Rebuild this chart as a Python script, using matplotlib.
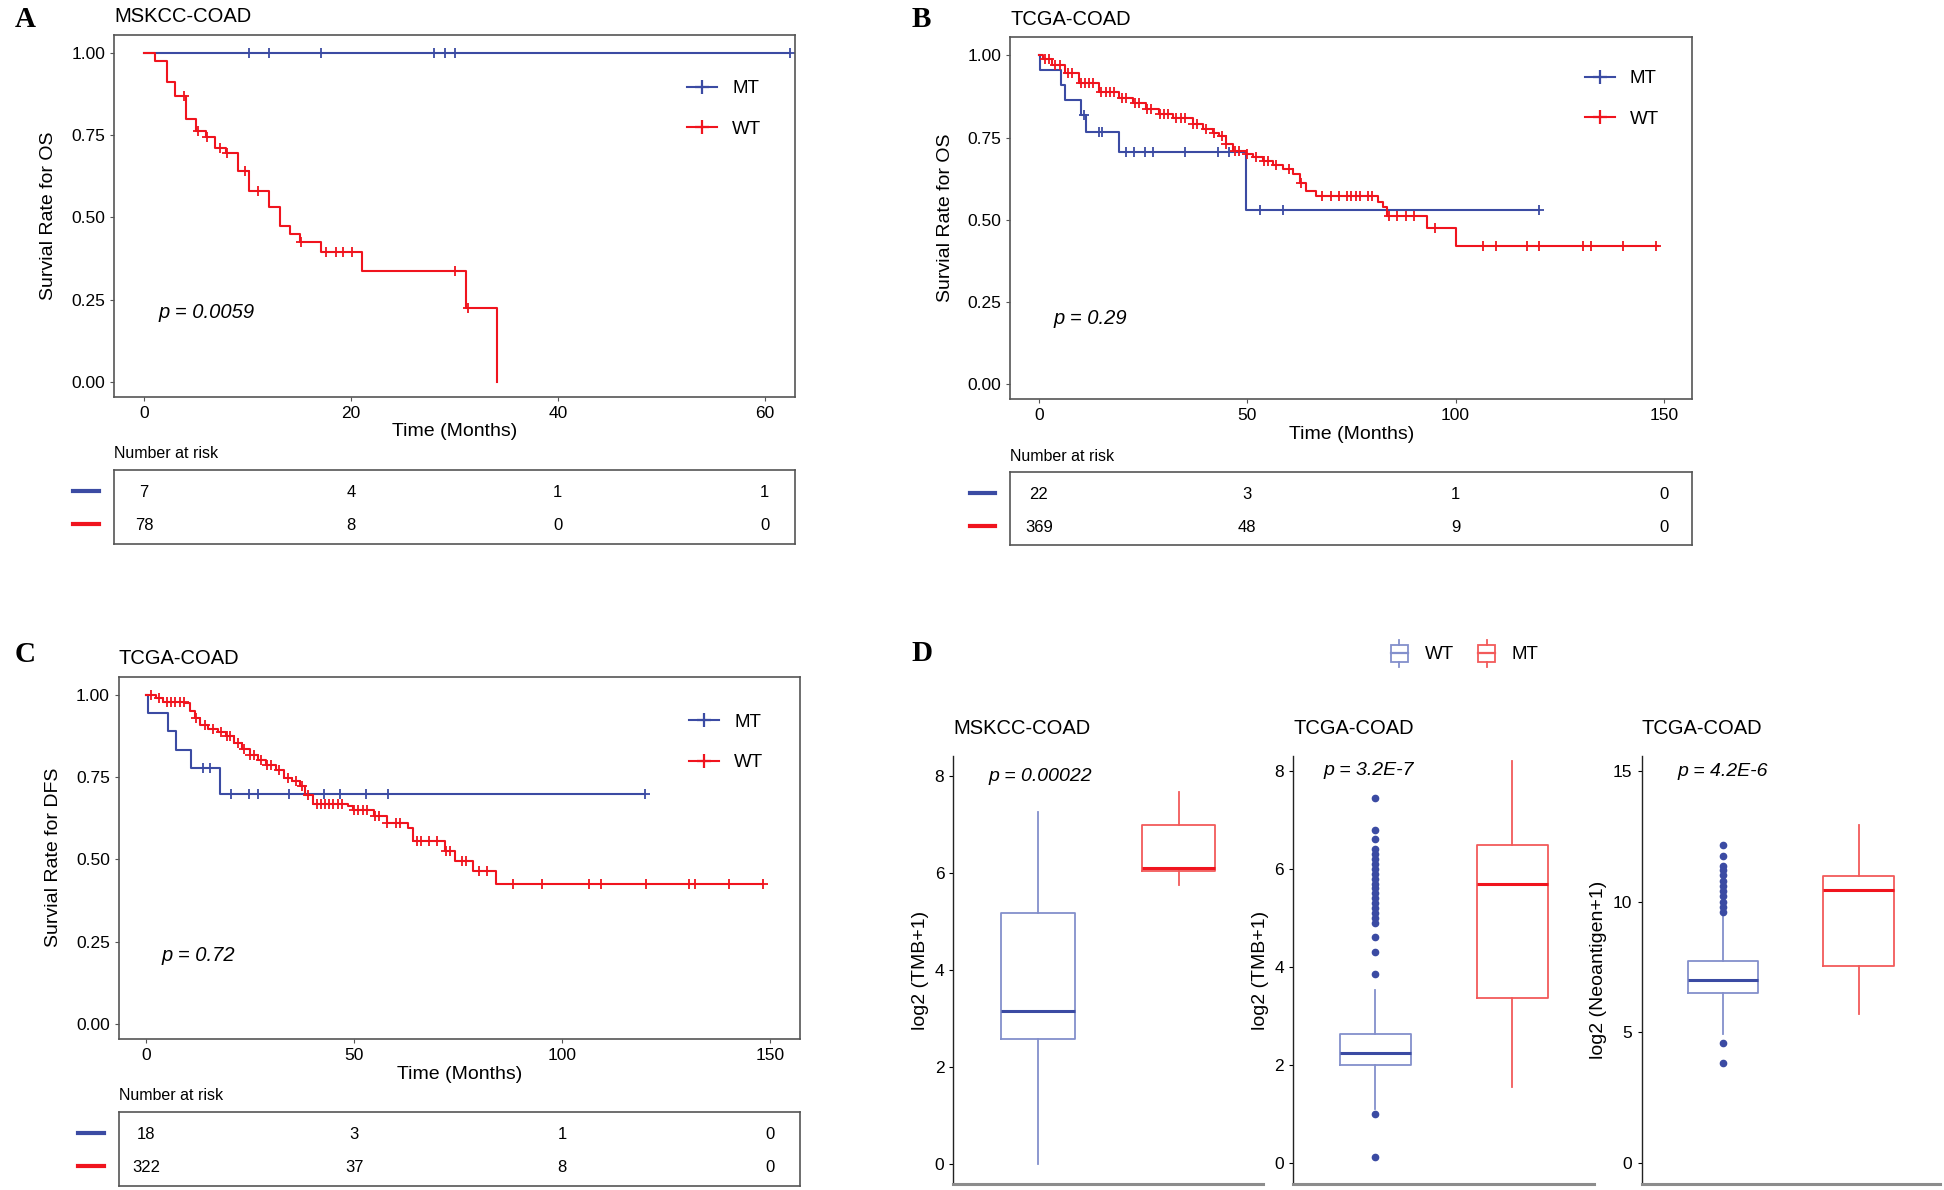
import numpy as np
import matplotlib
matplotlib.use("Agg")
import matplotlib.pyplot as plt
from matplotlib.lines import Line2D
from matplotlib.patches import Rectangle, Patch
from matplotlib.legend_handler import HandlerBase
from matplotlib.ticker import FormatStrFormatter

plt.rcParams['font.family'] = ['Liberation Sans', 'DejaVu Sans']

BLUE = "#3B4BA3"
RED = "#F0141E"
BLUE_L = "#8390CC"
RED_L = "#F25A5A"
FRAME = "#555555"

# ---------------- Panel A: MSKCC-COAD, OS ----------------
a_mt_times = [0]
a_mt_surv = [1.0]
a_mt_end = 62.4
a_mt_censor = [10.1, 12.05, 17.1, 28.0, 29.1, 30.1, 62.4]

a_wt_times = [0, 1.1, 2.2, 3.0, 4.05, 5.06, 6.0, 6.9, 7.9, 9.1, 10.1,
              12.05, 13.1, 14.1, 15.1, 17.1, 21.1, 31.1, 34.1]
a_wt_surv = [1.0, 0.975, 0.91, 0.87, 0.80, 0.763, 0.745, 0.712, 0.695, 0.64,
             0.58, 0.532, 0.475, 0.45, 0.425, 0.395, 0.337, 0.225, 0.0]
a_wt_end = 34.1
a_wt_censor = [3.9, 5.2, 6.1, 7.3, 8.0, 9.8, 11.0, 15.2, 17.6, 18.6, 19.2,
               20.1, 30.1, 31.3]

a_risk_times = [0, 20, 40, 60]
a_risk_mt = [7, 4, 1, 1]
a_risk_wt = [78, 8, 0, 0]

# ---------------- Panel B: TCGA-COAD, OS ----------------
b_mt_times = [0, 0.3, 5.3, 6.4, 10.0, 11.2, 19.3, 49.8]
b_mt_surv = [1.0, 0.955, 0.909, 0.864, 0.818, 0.768, 0.705, 0.53]
b_mt_end = 120.0
b_mt_censor = [10.9, 14.4, 15.2, 20.9, 22.8, 25.4, 27.3, 35.0, 43.0, 45.7,
               53.0, 58.6, 120.0]

b_wt_times = [0, 1.0, 3.2, 6.4, 9.6, 14.4, 19.3, 22.5, 25.7, 28.9, 32.1,
              36.9, 39.3, 41.7, 43.3, 44.9, 46.5, 49.8, 51.4, 53.8, 56.2,
              58.6, 61.0, 62.6, 64.2, 66.6, 81.5, 82.7, 83.5, 93.1, 100.0]
b_wt_surv = [1.0, 0.99, 0.97, 0.947, 0.917, 0.887, 0.871, 0.856, 0.836,
             0.821, 0.81, 0.79, 0.775, 0.765, 0.755, 0.73, 0.71, 0.70, 0.69,
             0.68, 0.667, 0.653, 0.64, 0.613, 0.588, 0.572, 0.555, 0.54,
             0.51, 0.475, 0.42]
b_wt_end = 148.5
b_wt_censor = [1.5, 2.5, 4, 5, 7, 8, 10, 11, 12, 13, 15, 16, 17, 18, 20, 21,
               23, 24, 26, 27, 29, 30, 31, 33, 34, 35, 37, 38, 40, 42, 44, 45,
               47, 48, 50, 52, 54, 55, 57, 60, 63, 68, 70, 72, 74, 75, 76, 77,
               79, 80, 84, 86, 88, 90, 95, 106.7, 109.6, 117.2, 120.1, 130.5,
               132.6, 140.1, 148.2]

b_risk_times = [0, 50, 100, 150]
b_risk_mt = [22, 3, 1, 0]
b_risk_wt = [369, 48, 9, 0]

# ---------------- Panel C: TCGA-COAD, DFS ----------------
c_mt_times = [0, 0.3, 5.1, 7.2, 10.8, 17.7]
c_mt_surv = [1.0, 0.944, 0.889, 0.833, 0.778, 0.70]
c_mt_end = 119.9
c_mt_censor = [13.5, 15.2, 20.3, 24.7, 26.8, 34.4, 42.7, 46.7, 52.8, 58.1,
               119.9]

c_wt_times = [0, 2.2, 4.0, 9.1, 10.4, 11.6, 12.9, 14.8, 17.3, 19.2, 21.1,
              23.0, 24.9, 26.8, 28.7, 31.3, 33.2, 35.1, 37.0, 38.2, 40.1,
              48.4, 49.6, 54.7, 57.8, 62.9, 64.2, 71.8, 74.3, 78.7, 84.2]
c_wt_surv = [1.0, 0.99, 0.98, 0.975, 0.95, 0.93, 0.91, 0.897, 0.887, 0.874,
             0.854, 0.837, 0.818, 0.803, 0.788, 0.773, 0.748, 0.737, 0.722,
             0.697, 0.669, 0.662, 0.649, 0.631, 0.611, 0.596, 0.556, 0.525,
             0.495, 0.465, 0.424]
c_wt_end = 148.4
c_wt_censor = [1, 3, 5, 6, 7, 8, 9, 12, 14, 16, 18, 19.5, 20, 22, 23.5, 25,
               26, 27.5, 29, 30, 32, 34, 36, 37.5, 39, 41, 42, 43, 44, 45, 46,
               47, 50, 51, 52, 53, 55, 56, 58, 60, 61, 65, 66, 68, 70, 72, 73,
               76, 77, 80, 82, 88.2, 95.2, 106.6, 109.4, 120.1, 130.6, 131.9,
               140.1, 148.4]

c_risk_times = [0, 50, 100, 150]
c_risk_mt = [18, 3, 1, 0]
c_risk_wt = [322, 37, 8, 0]

# ---------------- Panel D: box plots ----------------
# (whislo, q1, med, q3, whishi)
d1_wt = [0.0, 2.57, 3.15, 5.17, 7.26]
d1_mt = [5.75, 6.05, 6.1, 6.99, 7.67]
d1_wt_fliers = []

d2_wt = [1.1, 2.0, 2.25, 2.62, 3.52]
d2_mt = [1.54, 3.37, 5.7, 6.49, 8.2]
d2_wt_fliers = [0.12, 0.99, 3.85, 4.3, 4.6, 4.9, 5.0, 5.1, 5.2, 5.3, 5.4,
                5.5, 5.6, 5.7, 5.8, 5.9, 6.0, 6.1, 6.2, 6.3, 6.4, 6.6, 6.8,
                7.45]

d3_wt = [4.93, 6.5, 7.01, 7.71, 9.45]
d3_mt = [5.69, 7.54, 10.44, 10.97, 12.92]
d3_wt_fliers = [3.82, 4.58, 9.6, 9.8, 10.0, 10.2, 10.4, 10.6, 10.8, 11.0,
                11.2, 11.35, 11.75, 12.15]


def step_value(times, surv, t):
    idx = np.searchsorted(times, t, side='right') - 1
    return np.asarray(surv)[idx]


def draw_curve(ax, times, surv, end, censor, color):
    t = list(times) + [end]
    s = list(surv) + [surv[-1]]
    ax.step(t, s, where='post', color=color, lw=1.5)
    cs = step_value(times, surv, np.asarray(censor))
    ax.plot(censor, cs, ls='none', marker='+', ms=6.5, mew=1.3, color=color)


def km_panel(rect, trect, curves, xlim, risk_times, risk_mt, risk_wt,
             title, ylabel, ptext, pxy, leg_anchor):
    ax = fig.add_axes(rect)
    for times, surv, end, censor, color in curves:
        draw_curve(ax, times, surv, end, censor, color)
    ax.set_xlim(xlim)
    ax.set_ylim(-0.045, 1.055)
    ax.set_xticks(risk_times)
    ax.set_yticks([0, 0.25, 0.5, 0.75, 1.0])
    ax.yaxis.set_major_formatter(FormatStrFormatter('%.2f'))
    ax.tick_params(labelsize=12.5, length=3, color=FRAME)
    for sp in ax.spines.values():
        sp.set_color(FRAME)
        sp.set_linewidth(1.2)
    ax.set_xlabel("Time (Months)", fontsize=14, labelpad=2)
    ax.set_ylabel(ylabel, fontsize=14, labelpad=10)
    ax.set_title(title, loc='left', fontsize=14.5, pad=9)
    ax.text(pxy[0], pxy[1], ptext, fontsize=14.5, style='italic',
            ha='left', va='center')
    handles = [Line2D([], [], color=BLUE, lw=1.5, marker='+', ms=10, mew=1.6),
               Line2D([], [], color=RED, lw=1.5, marker='+', ms=10, mew=1.6)]
    ax.legend(handles, ['MT', 'WT'], loc='upper right',
              bbox_to_anchor=leg_anchor, frameon=False, fontsize=13.5,
              handlelength=1.6, labelspacing=1.25, borderpad=0)

    at = fig.add_axes(trect)
    at.set_xlim(xlim)
    at.set_ylim(0, 1)
    at.set_xticks([])
    at.set_yticks([])
    for sp in at.spines.values():
        sp.set_color(FRAME)
        sp.set_linewidth(1.2)
    for x, m, w in zip(risk_times, risk_mt, risk_wt):
        at.text(x, 0.70, str(m), ha='center', va='center', fontsize=12)
        at.text(x, 0.25, str(w), ha='center', va='center', fontsize=12)
    at.plot([-0.06, -0.022], [0.72, 0.72], color=BLUE, lw=3,
            transform=at.transAxes, clip_on=False)
    at.plot([-0.06, -0.022], [0.27, 0.27], color=RED, lw=3,
            transform=at.transAxes, clip_on=False)
    at.text(0, 1.22, "Number at risk", transform=at.transAxes,
            ha='left', va='center', fontsize=11.5)


def box_stats(v, fliers=()):
    return dict(whislo=v[0], q1=v[1], med=v[2], q3=v[3], whishi=v[4],
                fliers=list(fliers))


def draw_box(ax, stats, pos, light, dark):
    ax.bxp([stats], positions=[pos], widths=0.52, showfliers=True,
           boxprops=dict(color=light, lw=1.3),
           whiskerprops=dict(color=light, lw=1.3),
           capprops=dict(visible=False),
           medianprops=dict(color=dark, lw=2.2),
           flierprops=dict(marker='o', ms=4.5, markerfacecolor=dark,
                           markeredgecolor=dark, ls='none'))


def box_panel(rect, wt, mt, fliers, ylim, yticks, ylabel, title, ptext, px):
    ax = fig.add_axes(rect)
    draw_box(ax, box_stats(wt, fliers), 1, BLUE_L, BLUE)
    draw_box(ax, box_stats(mt), 2, RED_L, RED)
    ax.set_xlim(0.4, 2.6)
    ax.set_ylim(ylim)
    ax.set_yticks(yticks)
    ax.set_xticks([])
    ax.spines['top'].set_visible(False)
    ax.spines['right'].set_visible(False)
    ax.spines['left'].set_color('#222222')
    ax.spines['left'].set_linewidth(1.0)
    ax.spines['bottom'].set_color('#8C8C8C')
    ax.spines['bottom'].set_linewidth(2.2)
    ax.tick_params(labelsize=12.5, length=3)
    ax.set_ylabel(ylabel, fontsize=14, labelpad=4)
    ax.set_title(title, loc='left', fontsize=14.5, pad=16)
    ax.text(px, yticks[-1], ptext, fontsize=14, style='italic',
            ha='center', va='center')


class BoxHandler(HandlerBase):
    def create_artists(self, legend, orig_handle, xdescent, ydescent,
                       width, height, fontsize, trans):
        c = orig_handle.get_edgecolor()
        x0 = -xdescent + width * 0.1
        w = width * 0.8
        y0 = -ydescent + height * 0.18
        h = height * 0.64
        rect = Rectangle((x0, y0), w, h, facecolor='none', edgecolor=c,
                         lw=1.3, transform=trans)
        mid = Line2D([x0, x0 + w], [y0 + h / 2] * 2, color=c, lw=1.6,
                     transform=trans)
        top = Line2D([x0 + w / 2] * 2, [y0 + h, y0 + h + height * 0.18],
                     color=c, lw=1.3, transform=trans)
        bot = Line2D([x0 + w / 2] * 2, [y0, y0 - height * 0.18],
                     color=c, lw=1.3, transform=trans)
        return [rect, mid, top, bot]


fig = plt.figure(figsize=(19.44, 11.90), dpi=100)

km_panel([0.0587, 0.6667, 0.3501, 0.3041], [0.0587, 0.5427, 0.3501, 0.0625],
         [(a_mt_times, a_mt_surv, a_mt_end, a_mt_censor, BLUE),
          (a_wt_times, a_wt_surv, a_wt_end, a_wt_censor, RED)],
         (-2.9, 62.9), a_risk_times, a_risk_mt, a_risk_wt,
         "MSKCC-COAD", "Survial Rate for OS", "p = 0.0059", (1.4, 0.21),
         (0.965, 0.90))

km_panel([0.5198, 0.6646, 0.3507, 0.3042], [0.5198, 0.5417, 0.3507, 0.0614],
         [(b_mt_times, b_mt_surv, b_mt_end, b_mt_censor, BLUE),
          (b_wt_times, b_wt_surv, b_wt_end, b_wt_censor, RED)],
         (-6.8, 156.8), b_risk_times, b_risk_mt, b_risk_wt,
         "TCGA-COAD", "Survial Rate for OS", "p = 0.29", (3.6, 0.2),
         (0.965, 0.935))

km_panel([0.0612, 0.1271, 0.3502, 0.3041], [0.0612, 0.0031, 0.3502, 0.0625],
         [(c_mt_times, c_mt_surv, c_mt_end, c_mt_censor, BLUE),
          (c_wt_times, c_wt_surv, c_wt_end, c_wt_censor, RED)],
         (-6.6, 157.2), c_risk_times, c_risk_mt, c_risk_wt,
         "TCGA-COAD", "Survial Rate for DFS", "p = 0.72", (3.6, 0.207),
         (0.96, 0.925))

box_panel([0.4904, 0.0052, 0.1595, 0.3594], d1_wt, d1_mt, d1_wt_fliers,
          (-0.41, 8.41), [0, 2, 4, 6, 8], "log2 (TMB+1)", "MSKCC-COAD",
          "p = 0.00022", 1.02)
box_panel([0.6652, 0.0052, 0.1550, 0.3594], d2_wt, d2_mt, d2_wt_fliers,
          (-0.43, 8.30), [0, 2, 4, 6, 8], "log2 (TMB+1)", "TCGA-COAD",
          "p = 3.2E-7", 0.95)
box_panel([0.8444, 0.0052, 0.1536, 0.3594], d3_wt, d3_mt, d3_wt_fliers,
          (-0.81, 15.57), [0, 5, 10, 15], "log2 (Neoantigen+1)", "TCGA-COAD",
          "p = 4.2E-6", 1.0)

fig.legend([Patch(edgecolor=BLUE_L, facecolor='none'),
            Patch(edgecolor=RED_L, facecolor='none')], ['WT', 'MT'],
           loc='center', bbox_to_anchor=(0.753, 0.451), ncol=2,
           frameon=False, fontsize=13.5, handlelength=1.1, handleheight=1.8,
           columnspacing=1.2, handler_map={Patch: BoxHandler()})

for x, y, s in [(0.0077, 0.984, 'A'), (0.469, 0.984, 'B'),
                (0.0077, 0.45, 'C'), (0.469, 0.451, 'D')]:
    fig.text(x, y, s, fontfamily='Liberation Serif', fontweight='bold',
             fontsize=21, va='center', ha='left')

fig.savefig("out.png", dpi=100)
